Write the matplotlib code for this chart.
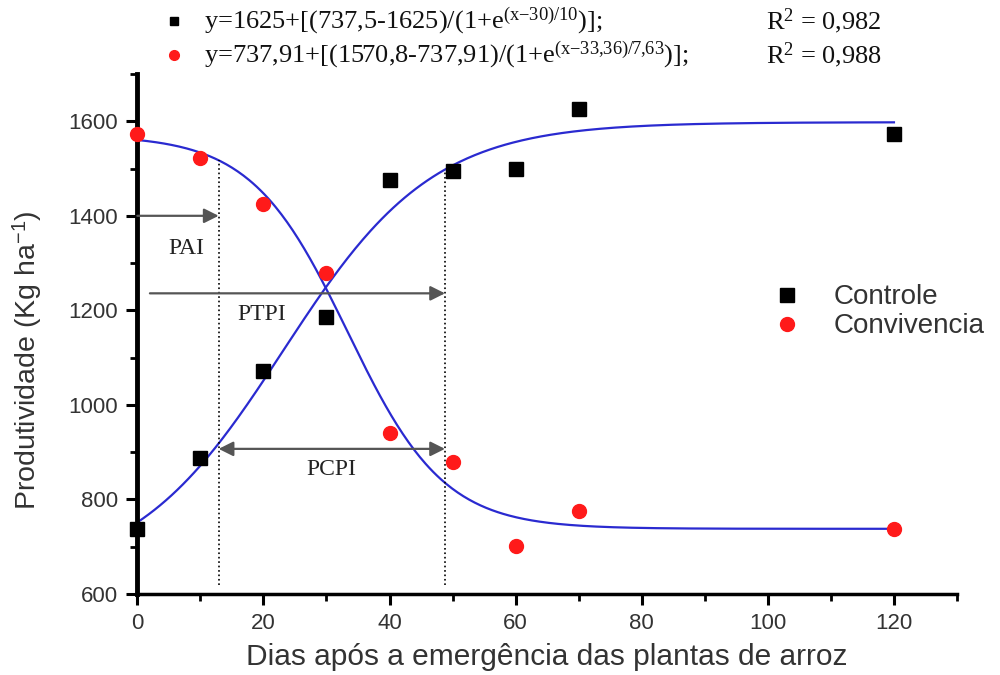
import numpy as np
import matplotlib
matplotlib.use("Agg")
import matplotlib.pyplot as plt

plt.rcParams['font.family'] = ['Liberation Sans', 'DejaVu Sans']
plt.rcParams['mathtext.fontset'] = 'custom'
plt.rcParams['mathtext.rm'] = 'Liberation Serif'
plt.rcParams['mathtext.it'] = 'Liberation Serif:italic'

# observed yields (kg/ha) per days after emergence
dias = [0, 10, 20, 30, 40, 50, 60, 70, 120]
controle = [737, 888, 1071, 1185, 1475, 1495, 1500, 1625, 1573]
convivencia = [1574, 1523, 1424, 1278, 941, 879, 701, 776, 737]

# logistic curves as drawn: y = a + (b - a) / (1 + exp((x - x0) / dx)) -> [a, b, x0, dx]
fit_controle = [1598, 630, 23.1, 11.9]
fit_convivencia = [737.91, 1570.8, 33.36, 7.63]

# critical periods (days)
pai = 12.9
ptpi = 48.8

eq_controle = r"y=1625+[(737,5-1625)/(1+e$^{\mathrm{(x{-}30)/10}}$)];"
eq_convivencia = r"y=737,91+[(1570,8-737,91)/(1+e$^{\mathrm{(x{-}33{,}36)/7{,}63}}$)];"
r2_controle = r"R$^{2}$ = 0,982"
r2_convivencia = r"R$^{2}$ = 0,988"


def logistic(x, p):
    a, b, x0, dx = p
    return a + (b - a) / (1 + np.exp((x - x0) / dx))


fig = plt.figure(figsize=(10, 6.75), dpi=100)
ax = fig.add_axes([0.1373, 0.12, 0.8197, 0.7704])

xc = np.linspace(0, 120, 400)
ax.plot(xc, logistic(xc, fit_controle), color='#2a2ad0', lw=1.6, zorder=2)
ax.plot(xc, logistic(xc, fit_convivencia), color='#2a2ad0', lw=1.6, zorder=2)

ax.plot(dias, controle, 's', color='black', ms=9.5, ls='none', zorder=3,
        clip_on=False, label='Controle')
ax.plot(dias, convivencia, 'o', color='#ff1a1a', ms=10, ls='none', zorder=3,
        clip_on=False, label='Convivencia')

# dotted limits of the periods
ax.plot([pai, pai], [620, logistic(pai, fit_convivencia)], ':', color='black', lw=1.2)
ax.plot([ptpi, ptpi], [620, logistic(ptpi, fit_controle)], ':', color='black', lw=1.2)

arrow = dict(arrowstyle='-|>', color='#555555', lw=1.6, mutation_scale=22,
             shrinkA=0, shrinkB=0)
ax.annotate('', xy=(pai, 1400), xytext=(0, 1400), arrowprops=arrow)
ax.annotate('', xy=(ptpi, 1236), xytext=(2, 1236), arrowprops=arrow)
arrow2 = dict(arrow, arrowstyle='<|-|>')
ax.annotate('', xy=(ptpi, 907), xytext=(pai, 907), arrowprops=arrow2)

serif = dict(family='Liberation Serif', fontsize=17, color='#222222', ha='center', va='center')
ax.text(7.8, 1330, 'PAI', **serif)
ax.text(19.8, 1192, 'PTPI', **serif)
ax.text(30.8, 864, 'PCPI', **serif)

ax.set_xlim(0, 130)
ax.set_ylim(600, 1700)
ax.set_xticks(range(0, 121, 20))
ax.set_xticks(range(10, 131, 20), minor=True)
ax.set_yticks(range(600, 1601, 200))
ax.set_yticks(range(700, 1701, 200), minor=True)

for s in ['top', 'right']:
    ax.spines[s].set_visible(False)
ax.spines['left'].set_linewidth(3.5)
ax.spines['bottom'].set_linewidth(2.5)
ax.tick_params(which='major', direction='out', length=8, width=2.2,
               labelsize=16, labelcolor='#333333', pad=6)
ax.tick_params(which='minor', direction='out', length=5, width=2)

ax.set_xlabel('Dias após a emergência das plantas de arroz', fontsize=21.5,
              color='#333333', labelpad=6)
ax.set_ylabel('Produtividade (Kg ha$^{\\mathregular{-1}}$)', fontsize=20.5,
              color='#333333')
ax.yaxis.set_label_coords(-0.114, 0.45)

leg = ax.legend(loc='center left', bbox_to_anchor=(0.748, 0.538),
                bbox_transform=fig.transFigure, frameon=False, fontsize=20,
                handlelength=1.0, handletextpad=1.2, labelspacing=0.1,
                labelcolor='#333333')

# equations at the top
ax.plot([0.174], [1 - 21 / 675], 's', color='black', ms=6,
        transform=fig.transFigure, clip_on=False)
ax.plot([0.174], [1 - 55 / 675], 'o', color='#ff1a1a', ms=7,
        transform=fig.transFigure, clip_on=False)
eq = dict(family='Liberation Serif', fontsize=19, color='#111111', va='center')
fig.text(0.204, 1 - 21 / 675, eq_controle, **eq)
fig.text(0.204, 1 - 55 / 675, eq_convivencia, **eq)
fig.text(0.766, 1 - 21 / 675, r2_controle, **eq)
fig.text(0.766, 1 - 55 / 675, r2_convivencia, **eq)

fig.savefig('out.png', dpi=100)
